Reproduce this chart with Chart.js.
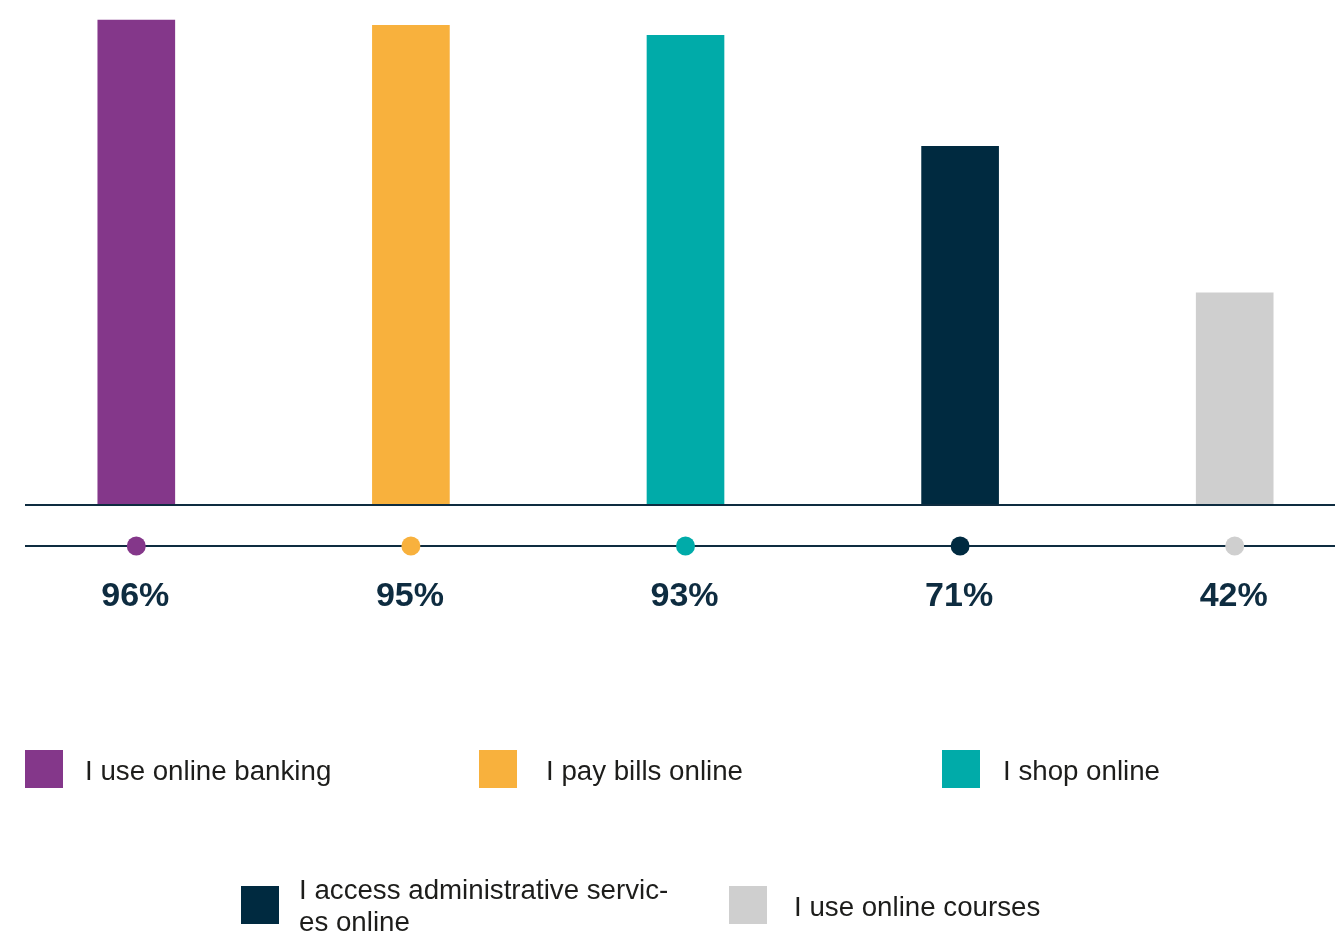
<!DOCTYPE html>
<html>
<head>
<meta charset="utf-8">
<script src="https://cdn.jsdelivr.net/npm/chart.js@4/dist/chart.umd.min.js"></script>
<style>
  html, body { margin: 0; padding: 0; background: #fff; overflow: hidden; }
  #wrap { position: relative; width: 1335px; height: 932px; overflow: hidden; }
  #chart { position: absolute; left: -1px; top: 0; }
  .item { position: absolute; font-family: "Liberation Sans", Arial, sans-serif; font-size: 27.7px; color: #1d1d1b; }
  .item .box { position: absolute; left: 0; width: 38px; height: 38px; }
  .item .txt { position: absolute; white-space: pre; line-height: 32px; }
</style>
</head>
<body>
<div id="wrap">
  <canvas id="chart" width="1373" height="932"></canvas>
  <div id="legend"></div>
</div>
<script>
var categories = ['I use online banking', 'I pay bills online', 'I shop online',
    'I access administrative servic-\nes online', 'I use online courses'];
var values = [96, 95, 93, 71, 42];
var colors = ['#84378a', '#f8b13d', '#00aba9', '#002a40', '#cfcfcf'];

var navy = '#0e2c40';

// legend spots: [left, top of square, text offset, text top]
var legendSpots = [
    [25, 750, 60, 755],
    [479, 750, 67, 755],
    [942, 750, 61, 755],
    [241, 886, 58, 874],
    [729, 886, 65, 891]
];

var rails = {
    id: 'rails',
    afterDatasetsDraw: function (chart) {
        var c = chart.ctx, area = chart.chartArea, xs = chart.scales.x;
        var lineY = area.bottom, dotY = area.bottom + 41;
        c.save();
        c.strokeStyle = navy;
        c.lineWidth = 2;
        c.beginPath();
        c.moveTo(26, lineY);
        c.lineTo(chart.width, lineY);
        c.moveTo(26, dotY);
        c.lineTo(chart.width, dotY);
        c.stroke();
        c.textAlign = 'center';
        c.textBaseline = 'middle';
        c.font = 'bold 34px "Liberation Sans", Arial, sans-serif';
        values.forEach(function (v, i) {
            var x = xs.getPixelForValue(i);
            c.fillStyle = colors[i];
            c.beginPath();
            c.arc(x, dotY, 9.5, 0, Math.PI * 2);
            c.fill();
            c.fillStyle = navy;
            c.fillText(v + '%', x - 1, dotY + 51);
        });
        c.restore();
    }
};

new Chart(document.getElementById('chart').getContext('2d'), {
    type: 'bar',
    data: {
        labels: categories,
        datasets: [{
            data: values,
            backgroundColor: colors,
            barThickness: 77
        }]
    },
    options: {
        responsive: false,
        animation: false,
        devicePixelRatio: 1,
        layout: { padding: { top: 0, bottom: 427, left: 0, right: 0 } },
        scales: {
            x: { display: false },
            y: { display: false, min: 0, max: 100 }
        },
        plugins: {
            legend: { display: false },
            tooltip: { enabled: false }
        }
    },
    plugins: [rails]
});

// html legend under the chart
var legend = document.getElementById('legend');
categories.forEach(function (name, i) {
    var s = legendSpots[i];
    var item = document.createElement('div');
    item.className = 'item';
    item.style.left = s[0] + 'px';
    item.style.top = '0px';
    var box = document.createElement('div');
    box.className = 'box';
    box.style.top = s[1] + 'px';
    box.style.background = colors[i];
    var txt = document.createElement('div');
    txt.className = 'txt';
    txt.style.left = s[2] + 'px';
    txt.style.top = s[3] + 'px';
    txt.textContent = name;
    item.appendChild(box);
    item.appendChild(txt);
    legend.appendChild(item);
});
</script>
</body>
</html>
